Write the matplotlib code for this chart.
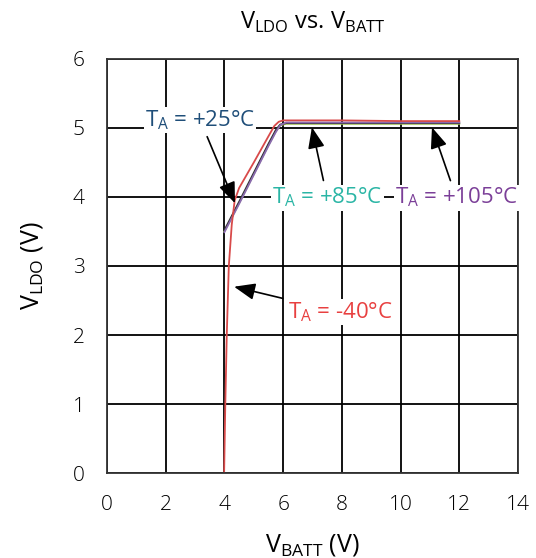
import numpy as np
import matplotlib
matplotlib.use("Agg")
import matplotlib.pyplot as plt

plt.rcParams['font.family'] = ['Open Sans', 'DejaVu Sans']
plt.rcParams['font.weight'] = 'light'
plt.rcParams['axes.titleweight'] = 'light'
plt.rcParams['axes.labelweight'] = 'light'
plt.rcParams['mathtext.fontset'] = 'custom'
plt.rcParams['mathtext.rm'] = 'Open Sans'

# VBATT (V) vs VLDO (V)
vbatt_hot = [4.0, 4.5, 5.0, 5.5, 5.75, 5.9, 6.1, 8.0, 10.0, 12.0]
vldo_25 = [3.52, 3.93, 4.35, 4.77, 4.97, 5.05, 5.07, 5.07, 5.07, 5.07]
vldo_85 = [3.50, 3.91, 4.33, 4.75, 4.95, 5.04, 5.06, 5.06, 5.06, 5.06]
vldo_105 = [3.49, 3.90, 4.32, 4.74, 4.94, 5.04, 5.08, 5.08, 5.08, 5.08]
vbatt_cold = [3.99, 4.03, 4.08, 4.15, 4.25, 4.35, 4.5, 5.0, 5.5, 5.7, 5.85, 6.0, 8.0, 10.0, 12.0]
vldo_m40 = [0.0, 1.0, 2.0, 3.0, 3.6, 3.95, 4.13, 4.5, 4.88, 5.03, 5.09, 5.11, 5.11, 5.10, 5.10]

fig = plt.figure(figsize=(5.36, 5.58), dpi=100)
ax = fig.add_axes([0.1996, 0.1523, 0.7668, 0.742])

ax.plot(vbatt_hot, vldo_85, color='#a8c850', lw=1.3)
ax.plot(vbatt_hot, vldo_25, color='#333333', lw=1.3)
ax.plot(vbatt_hot, vldo_105, color='#8a6ab0', lw=1.3)
ax.plot(vbatt_cold, vldo_m40, color='#d84a4a', lw=1.3)

ax.set_xlim(0, 14)
ax.set_ylim(0, 6)
ax.set_xticks(np.arange(0, 15, 2))
ax.set_yticks(np.arange(0, 7, 1))
ax.grid(True, color='black', lw=1.3)
ax.tick_params(length=0, labelsize=15, pad=16)
for s in ax.spines.values():
    s.set_linewidth(1.3)
    s.set_color('#333333')

ax.set_xlabel(r'V$_\mathregular{BATT}$ (V)', fontsize=18, fontweight='normal', labelpad=12)
ax.set_ylabel(r'V$_\mathregular{LDO}$ (V)', fontsize=18, fontweight='normal', labelpad=20)
ax.set_title(r'V$_\mathregular{LDO}$ vs. V$_\mathregular{BATT}$', fontsize=17,
             fontweight='normal', pad=22)

box = dict(facecolor='white', edgecolor='none', pad=1)
arr = dict(arrowstyle='-|>,head_length=0.8,head_width=0.32', color='black', lw=1.2,
           shrinkA=3, shrinkB=0)
ax.annotate(r'T$_\mathregular{A}$ = +25°C', xy=(4.36, 3.91), xytext=(3.17, 5.12),
            color='#1f4e79', fontsize=16, fontweight='normal',
            ha='center', va='center', bbox=box, arrowprops=arr)
ax.annotate(r'T$_\mathregular{A}$ = +85°C', xy=(6.98, 5.01), xytext=(7.5, 3.99),
            color='#2ab5a5', fontsize=16, fontweight='normal',
            ha='center', va='center', bbox=box, arrowprops=arr)
ax.annotate(r'T$_\mathregular{A}$ = +105°C', xy=(11.07, 5.01), xytext=(11.9, 3.99),
            color='#7b3f98', fontsize=16, fontweight='normal',
            ha='center', va='center', bbox=box, arrowprops=arr)
ax.annotate(r'T$_\mathregular{A}$ = -40°C', xy=(4.33, 2.70), xytext=(7.95, 2.33),
            color='#e84040', fontsize=16, fontweight='normal',
            ha='center', va='center', bbox=box, arrowprops=arr)

fig.savefig('out.png', dpi=100)
